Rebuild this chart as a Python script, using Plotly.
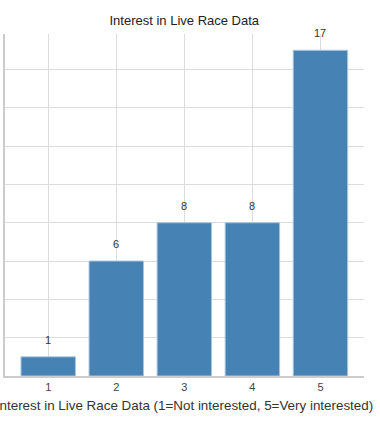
import plotly.graph_objects as go

categories = [1, 2, 3, 4, 5]
counts = [1, 6, 8, 8, 17]
labels = [str(v) for v in counts]

fig = go.Figure()
fig.add_trace(go.Bar(
    x=categories, y=counts, width=0.8,
    marker=dict(color="#4682b4", line=dict(color="#a9c6e0", width=1)),
    hoverinfo="skip",
))
for c, v, t in zip(categories, counts, labels):
    fig.add_annotation(x=c, y=v, text=t, showarrow=False, yanchor="bottom",
                       yshift=9, font=dict(size=11, color="#333"))

fig.update_layout(
    width=380, height=426,
    margin=dict(l=5, r=16, t=34, b=50, autoexpand=False),
    paper_bgcolor="white", plot_bgcolor="white",
    font=dict(family="Liberation Sans, Arial, sans-serif", color="#333"),
    title=dict(text="Interest in Live Race Data", x=0.485, xanchor="center",
               y=1 - 20 / 426, yanchor="middle", font=dict(size=13, color="#222")),
    showlegend=False,
    xaxis=dict(
        range=[0.365, 5.64], tickvals=categories, ticktext=[str(c) for c in categories],
        showgrid=True, gridcolor="#dddddd", gridwidth=1,
        showline=True, linecolor="#cccccc", linewidth=2,
        ticks="", tickfont=dict(size=11, color="#444"), automargin=False,
        title=dict(text="Interest in Live Race Data (1=Not interested, 5=Very interested)",
                   font=dict(size=13.4, color="#333"), standoff=8),
        zeroline=False,
    ),
    yaxis=dict(
        range=[0, 17.85], dtick=2, tick0=0, automargin=False,
        showgrid=True, gridcolor="#dddddd", gridwidth=1,
        showline=True, linecolor="#cccccc", linewidth=2,
        showticklabels=False, ticks="", zeroline=False,
    ),
)
fig.write_html("out.html", config={"displayModeBar": False},
               post_script="document.body.style.margin='0';")
